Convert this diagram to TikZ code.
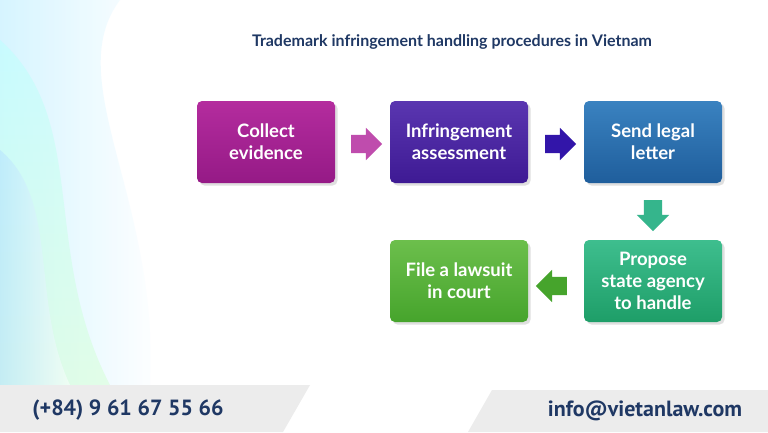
\documentclass[tikz,border=0pt]{standalone}
\usepackage{fontspec}
\setmainfont{Lato}
\newfontfamily\telfont{PT Sans}
\usetikzlibrary{shapes.arrows,shadows}
\definecolor{navy}{HTML}{1F3864}
\definecolor{band}{HTML}{ECECEC}
\definecolor{plumA}{HTML}{B42C9E}
\definecolor{plumB}{HTML}{951A86}
\definecolor{indA}{HTML}{5A36B0}
\definecolor{indB}{HTML}{3E1A94}
\definecolor{blueA}{HTML}{3A82C0}
\definecolor{blueB}{HTML}{1F5E9C}
\definecolor{tealA}{HTML}{3EBE8E}
\definecolor{tealB}{HTML}{1E9E68}
\definecolor{leafA}{HTML}{6CBF4C}
\definecolor{leafB}{HTML}{46A42C}
\begin{document}
\begin{tikzpicture}[x=1pt,y=-1pt]
    \tikzset{stepbox/.style={rectangle, rounded corners=5pt, minimum
        width=138pt, minimum height=82pt, text=white, align=center,
        font=\fontsize{18.5}{22}\selectfont\bfseries, drop shadow={opacity=0.25}}}
    \tikzset{flow/.style={single arrow, minimum height=31pt, inner
        xsep=0pt, inner ysep=9pt, single arrow head extend=7pt,
        single arrow tip angle=90}}

    \useasboundingbox (0,0) rectangle (768,432);
    \fill[white] (0,0) rectangle (768,432);
    % left decoration
    \shade[left color=blue!25!cyan!20, right color=white, opacity=0.8]
        (0,0) -- (120,0) .. controls (60,80) and (160,200) .. (150,385) -- (0,385) -- cycle;
    \shade[top color=cyan!25, bottom color=green!15, opacity=0.6]
        (0,40) .. controls (90,120) and (40,250) .. (110,385) -- (0,385) -- cycle;
    \shade[left color=blue!40!cyan!30, right color=white, opacity=0.5]
        (0,150) .. controls (60,200) and (30,300) .. (70,385) -- (0,385) -- cycle;
    % bottom bands
    \fill[band] (0,385) -- (310,385) -- (283,432) -- (0,432) -- cycle;
    \fill[band] (492,390) -- (768,390) -- (768,432) -- (468,432) -- cycle;
    \node (phone) [text=navy, font=\telfont\bfseries\fontsize{22}{26}\selectfont]
        at (128,410) {(+84) 9 61 67 55 66};
    \node (mail) [text=navy, font=\telfont\bfseries\fontsize{22}{26}\selectfont]
        at (645,411) {info@vietanlaw.com};

    \node (title) [text=navy, font=\fontsize{16}{19}\selectfont\bfseries]
        at (452,42) {Trademark infringement handling procedures in Vietnam};

    \node (collect) [stepbox, top color=plumA, bottom color=plumB]
        at (266,142) {Collect\\evidence};
    \node (assess) [stepbox, top color=indA, bottom color=indB]
        at (459,142) {Infringement\\assessment};
    \node (letter) [stepbox, top color=blueA, bottom color=blueB]
        at (653,142) {Send legal\\letter};
    \node (agency) [stepbox, top color=tealA, bottom color=tealB]
        at (653,281) {Propose\\state agency\\to handle};
    \node (lawsuit) [stepbox, top color=leafA, bottom color=leafB]
        at (459,281) {File a lawsuit\\in court};

    \node (a1) [flow, fill=plumA!85] at (362,144) {};
    \node (a2) [flow, fill=indB!80!blue] at (556,144) {};
    \node (a3) [flow, shape border rotate=270, inner xsep=9pt, inner ysep=0pt,
        fill=tealA!85!teal] at (653,211) {};
    \node (a4) [flow, shape border rotate=180, fill=leafB] at (556,286) {};
\end{tikzpicture}
\end{document}
